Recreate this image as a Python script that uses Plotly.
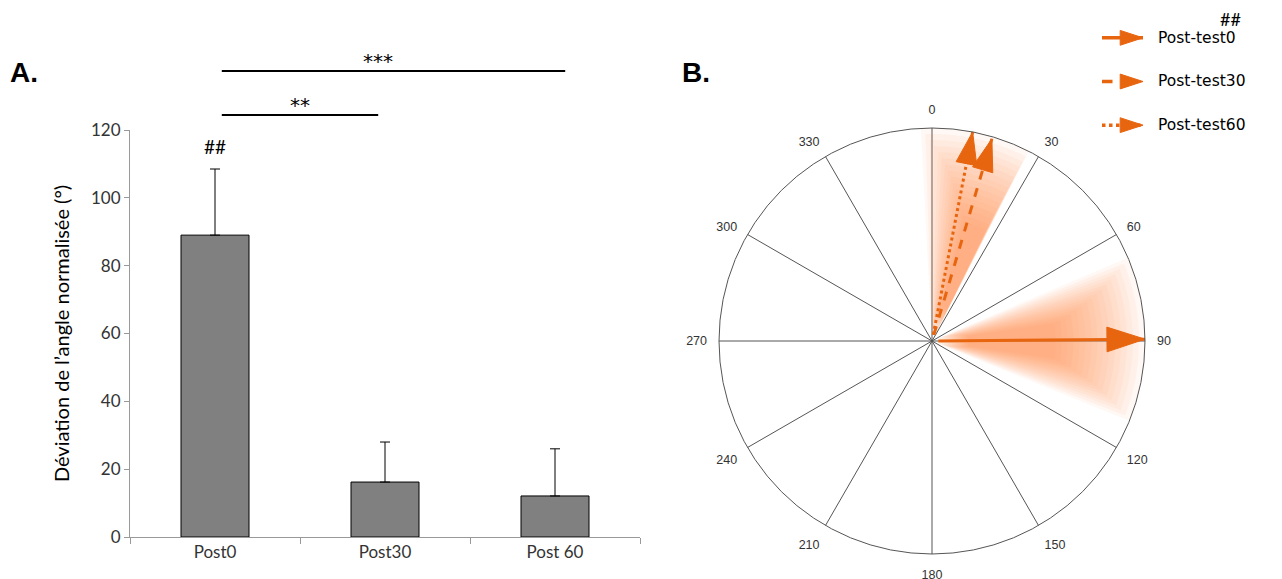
import plotly.graph_objects as go

# bar chart data (panel A)
conditions = ["Post0", "Post30", "Post 60"]
deviation_mean = [89, 16.2, 12.1]
deviation_err = [19.5, 11.8, 13.9]

# polar data (panel B)
tests = ["Post-test0", "Post-test30", "Post-test60"]
mean_angle = [89.5, 16.5, 11]
vector_len = [1.0, 0.99, 1.0]
line_dash = ["solid", "dash", "dot"]
# angular spread shown as shaded wedges: outer bounds and brightest core
spread_lo = [67, -3]
spread_hi = [112, 27]
core_lo = [82, 15]
core_hi = [98, 26]

angle_ticks = list(range(0, 360, 30))

ORANGE = "#E8650F"
W, H = 1282, 579
OFF = 8  # page body margin


def fx(px):
    # screen x pixel -> paper fraction
    return (px - OFF) / W


def fy(py):
    # screen y pixel (from top) -> paper fraction
    return (H + OFF - py) / H


fig = go.Figure()

# --- panel A: bars with upper error bars
fig.add_trace(go.Bar(
    x=conditions, y=deviation_mean,
    marker=dict(color="#808080", line=dict(color="black", width=1)),
    error_y=dict(type="data", array=deviation_err, arrayminus=[0] * 3, symmetric=False,
                 color="black", thickness=1, width=5),
    showlegend=False, hoverinfo="skip",
))

# --- panel B: shaded spreads (many translucent nested sectors -> soft gradient)
sh_theta, sh_width, sh_base, sh_r = [], [], [], []
n_layers = 16
for lo, hi, clo, chi in zip(spread_lo, spread_hi, core_lo, core_hi):
    for k in range(n_layers):
        f = k / (n_layers - 1)
        a0 = lo + (clo - lo) * f
        a1 = hi + (chi - hi) * f
        base = 0.03 + 0.14 * f
        top = 1.0 - 0.42 * f
        sh_theta.append((a0 + a1) / 2)
        sh_width.append(a1 - a0)
        sh_base.append(base)
        sh_r.append(top - base)
fig.add_trace(go.Barpolar(
    r=sh_r, theta=sh_theta, width=sh_width, base=sh_base,
    marker=dict(color="rgba(246,135,50,0.055)", line=dict(width=0)),
    showlegend=False, hoverinfo="skip",
))

# --- panel B: mean vectors
head_size = [40, 34, 34]
for name, ang, ln, dash, hs in zip(tests, mean_angle, vector_len, line_dash, head_size):
    fig.add_trace(go.Scatterpolar(
        r=[0.03, ln], theta=[ang, ang], mode="lines+markers",
        line=dict(color=ORANGE, width=3, dash=dash),
        marker=dict(symbol="arrow", size=[0, hs], angle=[0, ang], color=ORANGE,
                    opacity=1, line=dict(width=1, color=ORANGE)),
        name=name, showlegend=False,
    ))

# --- custom legend on a hidden cartesian subplot
for i, (name, dash) in enumerate(zip(tests, line_dash)):
    yy = 2.5 - i
    fig.add_trace(go.Scatter(
        x=[0, 1], y=[yy, yy], xaxis="x2", yaxis="y2", mode="lines+markers",
        line=dict(color=ORANGE, width=3.5, dash=dash),
        marker=dict(symbol="arrow", size=[0, 24], angle=[0, 90], color=ORANGE,
                    opacity=1, line=dict(width=1, color=ORANGE)),
        showlegend=False, hoverinfo="skip", cliponaxis=False,
    ))
    fig.add_annotation(x=1, y=yy, xref="x2", yref="y2", text=name, showarrow=False,
                       xanchor="left", xshift=13,
                       font=dict(family="DejaVu Sans", size=15.5, color="black"))

axis_font = dict(family="Lato, Open Sans, sans-serif", size=17, color="#333")

fig.update_layout(
    width=W, height=H,
    margin=dict(l=0, r=0, t=0, b=0, autoexpand=False),
    paper_bgcolor="white", plot_bgcolor="white",
    bargap=0.6,
    xaxis=dict(domain=[fx(130), fx(640)], showline=True, linecolor="#999", linewidth=1,
               ticks="outside", tickson="boundaries", ticklen=6, tickcolor="#999",
               tickfont=axis_font, showgrid=False, zeroline=False, fixedrange=True,
               automargin=False),
    yaxis=dict(domain=[fy(537), fy(130)], range=[0, 120], dtick=20, showline=True,
               linecolor="#999", linewidth=1, ticks="outside", ticklen=5, tickcolor="#999",
               tickfont=axis_font, showgrid=False, zeroline=False, automargin=False,
               title=dict(text="Déviation de l’angle normalisée (°)",
                          font=dict(family="Lato, Open Sans, sans-serif", size=20, color="black"),
                          standoff=16)),
    xaxis2=dict(domain=[fx(1102), fx(1143)], range=[0, 1], visible=False, fixedrange=True,
                automargin=False),
    yaxis2=dict(domain=[fy(147), fy(16)], range=[0, 3], visible=False,
                fixedrange=True, automargin=False),
    polar=dict(
        domain=dict(x=[fx(719), fx(1145)], y=[fy(554), fy(128)]),
        bgcolor="white",
        barmode="overlay",
        radialaxis=dict(visible=False, range=[0, 1], showgrid=False),
        angularaxis=dict(direction="clockwise", rotation=90, tickvals=angle_ticks,
                         ticktext=[str(a) for a in angle_ticks],
                         showline=True, linecolor="#555", linewidth=1,
                         showgrid=True, gridcolor="#555", gridwidth=1,
                         ticks="outside", ticklen=9, tickcolor="rgba(0,0,0,0)",
                         tickfont=dict(family="Liberation Sans, Arial", size=12.5, color="#333")),
    ),
)

# significance bars
sig_font = dict(family="DejaVu Sans", size=20, color="black")
fig.add_shape(type="line", xref="x", yref="paper", x0=0.04, x1=2.06,
              y0=fy(71), y1=fy(71), line=dict(color="black", width=2))
fig.add_shape(type="line", xref="x", yref="paper", x0=0.04, x1=0.96,
              y0=fy(115), y1=fy(115), line=dict(color="black", width=2))
fig.add_annotation(x=0.96, y=fy(58), xref="x", yref="paper", text="***",
                   showarrow=False, font=sig_font, yanchor="middle", yshift=-3)
fig.add_annotation(x=0.5, y=fy(102), xref="x", yref="paper", text="**",
                   showarrow=False, font=sig_font, yanchor="middle", yshift=-3)
fig.add_annotation(x="Post0", y=115, xref="x", yref="y", text="##", showarrow=False,
                   font=dict(family="Lato, Open Sans, sans-serif", size=19, color="black"))
fig.add_annotation(x=fx(1243), y=fy(19), xref="paper", yref="paper", text="##",
                   showarrow=False, yanchor="middle",
                   font=dict(family="Lato, Open Sans, sans-serif", size=18, color="black"))

# panel labels
lab_font = dict(family="Liberation Sans, Arial", size=28, color="black")
fig.add_annotation(x=fx(8), y=fy(55), xref="paper", yref="paper", text="<b>A.</b>",
                   showarrow=False, xanchor="left", font=lab_font)
fig.add_annotation(x=fx(680), y=fy(55), xref="paper", yref="paper", text="<b>B.</b>",
                   showarrow=False, xanchor="left", font=lab_font)

fig.write_html("out.html")
